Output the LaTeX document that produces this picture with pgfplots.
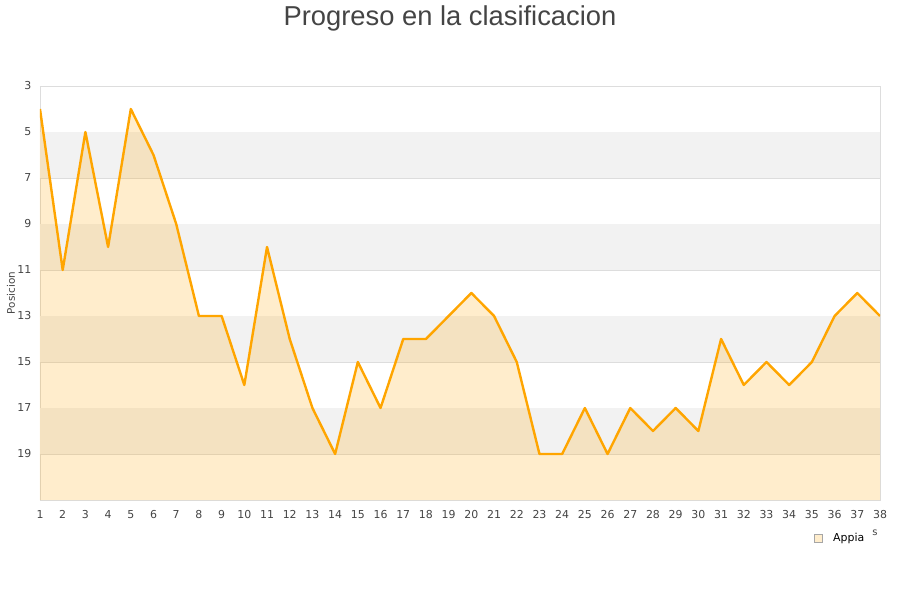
\documentclass[border=0pt]{standalone}
\usepackage{pgfplots}
\usepackage{pgfplotstable}
\pgfplotsset{compat=1.18}
\usepackage{fontspec}
\setmainfont{DejaVu Sans}
\newfontfamily\titlefont{Liberation Sans}

\definecolor{txt}{HTML}{444444}
\definecolor{gridc}{HTML}{DDDDDD}
\definecolor{band}{HTML}{F2F2F2}
\definecolor{lineor}{HTML}{FFA500}

\pgfplotstableread{
jornada pos
1 4
2 11
3 5
4 10
5 4
6 6
7 9
8 13
9 13
10 16
11 10
12 14
13 17
14 19
15 15
16 17
17 14
18 14
19 13
20 12
21 13
22 15
23 19
24 19
25 17
26 19
27 17
28 18
29 17
30 18
31 14
32 16
33 15
34 16
35 15
36 13
37 12
38 13
}\appia

\begin{document}
\begin{tikzpicture}
% page 900x600 px (1px = 0.75pt), axis box at x 40..880, y 86..500
\begin{axis}[
    at={(0pt,0pt)}, anchor=south west,
    scale only axis,
    width=630pt, height=310.5pt,
    xmin=1, xmax=38,
    ymin=3, ymax=21,
    y dir=reverse,
    xtick={1,...,38},
    ytick={3,5,...,19},
    tick style={draw=none},
    axis line style={draw=gridc},
    ymajorgrids=true,
    grid style={draw=gridc, line width=0.6pt},
    ylabel={Posicion},
    ylabel style={font=\fontsize{7.8}{9}\selectfont, text=txt, at={(rel axis cs:0,0.5)}, anchor=center, yshift=21.75pt},
    tick label style={font=\fontsize{8.2}{10}\selectfont, text=txt},
    /pgf/number format/assume math mode=true,
    xticklabel style={yshift=-4.5pt},
    yticklabel style={xshift=-3pt},
    legend style={draw=none, fill=none, at={(0.921,-0.092)}, anchor=west,
        font=\fontsize{8.2}{10}\selectfont, inner sep=0pt},
]
% alternating bands
\fill[band] (axis cs:1,5.02) rectangle (axis cs:38,6.98);
\fill[band] (axis cs:1,9.02) rectangle (axis cs:38,10.98);
\fill[band] (axis cs:1,13.02) rectangle (axis cs:38,14.98);
\fill[band] (axis cs:1,17.02) rectangle (axis cs:38,18.98);
% area under the line, down to the bottom of the axis
\addplot[fill=lineor, fill opacity=0.2, draw=none, forget plot]
    table[x=jornada, y=pos] {\appia} -- (axis cs:38,21) -- (axis cs:1,21) -- cycle;
\addplot[lineor, line width=1.8pt, line join=round, forget plot]
    table[x=jornada, y=pos] {\appia};
\addlegendimage{legend image code/.code={
    \draw[draw=gray!70, fill=lineor, fill opacity=0.2, line width=0.5pt] (0pt,-3pt) rectangle (6pt,3pt);
}}
\addlegendentry{\hspace{6pt}Appia}
\end{axis}
\node[text=txt, font=\titlefont\fontsize{20.5}{24}\selectfont] at (307.5pt,361.5pt) {Progreso en la clasificacion};
\node[text=txt, font=\fontsize{7.5}{9}\selectfont] at (626.25pt,-24.5pt) {s};
\pgfresetboundingbox
\path[use as bounding box] (-30pt,-75pt) rectangle (645pt,375pt);
\end{tikzpicture}
\end{document}
